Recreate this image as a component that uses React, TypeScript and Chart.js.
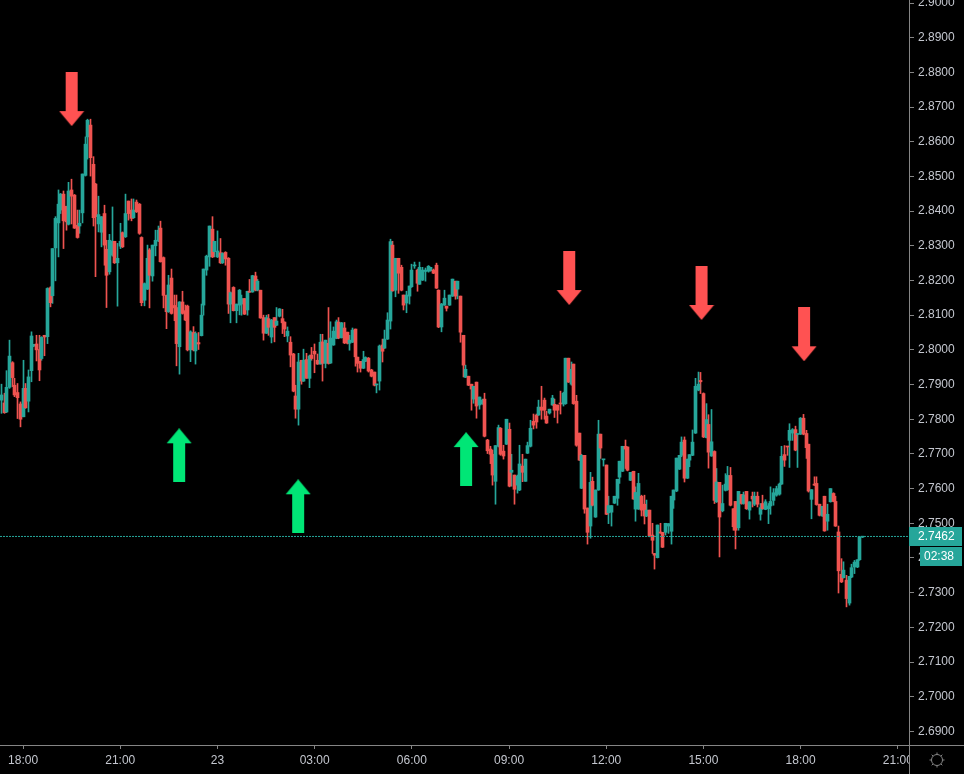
import { useEffect, useRef } from 'react';
import { Chart, registerables } from 'chart.js';

Chart.register(...registerables);

const opens = [
  2.7855,2.7847,2.7821,2.7892,2.7963,2.7898,2.7877,2.7844,2.7807,2.7889,
  2.7852,2.7940,2.8011,2.8017,2.8001,2.7975,2.8042,2.8038,2.8179,2.8156,
  2.8294,2.8366,2.8403,2.8449,2.8414,2.8362,2.8461,2.8446,2.8359,2.8357,
  2.8395,2.8503,2.8614,2.8648,2.8535,2.8478,2.8363,2.8339,2.8393,2.8290,
  2.8225,2.8273,2.8313,2.8251,2.8299,2.8338,2.8326,2.8429,2.8403,2.8381,
  2.8426,2.8420,2.8324,2.8143,2.8175,2.8288,2.8213,2.8300,2.8314,2.8351,
  2.8266,2.8157,2.8110,2.8207,2.8128,2.8122,2.8009,2.8138,2.8113,2.8126,
  2.8000,2.8050,2.7997,2.8021,2.8041,2.8129,2.8230,2.8268,2.8348,2.8283,
  2.8268,2.8280,2.8251,2.8281,2.8264,2.8132,2.8180,2.8113,2.8129,2.8132,
  2.8148,2.8115,2.8169,2.8167,2.8213,2.8172,2.8172,2.8093,2.8048,2.8090,
  2.8037,2.8093,2.8071,2.8097,2.8090,2.8080,2.8040,2.8022,2.7988,2.7867,
  2.7829,2.7970,2.7910,2.7972,2.7918,2.7985,2.7996,2.7970,2.7959,2.8023,
  2.7961,2.8019,2.7962,2.8014,2.8033,2.8080,2.8035,2.8063,2.8051,2.8019,
  2.8022,2.8060,2.7979,2.7967,2.7947,2.7967,2.7976,2.7942,2.7936,2.7899,
  2.7910,2.8014,2.8005,2.8031,2.8083,2.8302,2.8172,2.8264,2.8238,2.8158,
  2.8135,2.8155,2.8182,2.8242,2.8230,2.8189,2.8201,2.8226,2.8227,2.8228,
  2.8230,2.8244,2.8172,2.8066,2.8129,2.8126,2.8129,2.8155,2.8198,2.8175,
  2.8155,2.8042,2.7921,2.7924,2.7901,2.7858,2.7907,2.7841,2.7844,2.7858,
  2.7740,2.7714,2.7699,2.7621,2.7722,2.7774,2.7708,2.7728,2.7771,2.7647,
  2.7639,2.7610,2.7596,2.7665,2.7621,2.7702,2.7722,2.7794,2.7812,2.7812,
  2.7835,2.7855,2.7809,2.7818,2.7841,2.7843,2.7841,2.7846,2.7844,2.7845,
  2.7976,2.7901,2.7959,2.7852,2.7760,2.7601,2.7696,2.7544,2.7492,2.7621,
  2.7518,2.7596,2.7757,2.7683,2.7668,2.7530,2.7532,2.7558,2.7572,2.7633,
  2.7650,2.7722,2.7720,2.7624,2.7650,2.7541,2.7541,2.7578,2.7555,2.7521,
  2.7538,2.7466,2.7413,2.7401,2.7474,2.7474,2.7474,2.7492,2.7477,2.7567,
  2.7593,2.7656,2.7696,2.7740,2.7630,2.7682,2.7696,2.7760,2.7884,2.7912,
  2.7874,2.7747,2.7785,2.7694,2.7707,2.7562,2.7618,2.7536,2.7595,2.7597,
  2.7638,2.7542,2.7563,2.7487,2.7583,2.7557,2.7592,2.7538,2.7578,2.7555,
  2.7578,2.7526,2.7557,2.7540,2.7542,2.7550,2.7566,2.7581,2.7584,2.7613,
  2.7698,2.7722,2.7739,2.7760,2.7770,2.7756,2.7757,2.7803,2.7759,2.7728,
  2.7569,2.7613,2.7615,2.7555,2.7521,2.7578,2.7506,2.7562,2.7586,2.7563,
  2.7475,2.7353,2.7343,2.7336,2.7270,2.7345,2.7374,2.7374,2.7395,2.7460,
];

const closes = [
  2.7870,2.7819,2.7892,2.7982,2.7920,2.7870,2.7862,2.7800,2.7889,2.7833,
  2.7922,2.8040,2.8016,2.8000,2.7942,2.8036,2.8037,2.8177,2.8136,2.8292,
  2.8379,2.8420,2.8449,2.8372,2.8369,2.8458,2.8443,2.8351,2.8324,2.8365,
  2.8507,2.8593,2.8662,2.8554,2.8381,2.8384,2.8390,2.8384,2.8302,2.8215,
  2.8316,2.8313,2.8251,2.8264,2.8313,2.8297,2.8393,2.8393,2.8379,2.8403,
  2.8398,2.8336,2.8136,2.8191,2.8264,2.8215,2.8302,2.8316,2.8345,2.8254,
  2.8157,2.8110,2.8187,2.8105,2.8121,2.8018,2.8138,2.8105,2.8086,2.8000,
  2.8052,2.8000,2.8047,2.8017,2.8100,2.8233,2.8270,2.8357,2.8268,2.8313,
  2.8285,2.8251,2.8278,2.8262,2.8132,2.8165,2.8113,2.8132,2.8172,2.8148,
  2.8103,2.8169,2.8166,2.8214,2.8172,2.8198,2.8092,2.8048,2.8093,2.8065,
  2.8086,2.8065,2.8083,2.8118,2.8078,2.8060,2.8054,2.7985,2.7881,2.7829,
  2.7965,2.7910,2.7970,2.7918,2.7982,2.7975,2.7988,2.7959,2.8022,2.7961,
  2.8028,2.7961,2.8034,2.8054,2.8081,2.8034,2.8078,2.8020,2.8019,2.8028,
  2.8057,2.7980,2.7961,2.7947,2.7972,2.7978,2.7939,2.7924,2.7898,2.7901,
  2.8011,2.7996,2.8031,2.8086,2.8312,2.8170,2.8264,2.8221,2.8172,2.8129,
  2.8158,2.8184,2.8230,2.8244,2.8192,2.8238,2.8230,2.8230,2.8241,2.8238,
  2.8221,2.8178,2.8066,2.8132,2.8149,2.8120,2.8158,2.8204,2.8155,2.8198,
  2.8051,2.7956,2.7944,2.7898,2.7887,2.7895,2.7838,2.7864,2.7855,2.7751,
  2.7709,2.7699,2.7639,2.7724,2.7776,2.7699,2.7694,2.7800,2.7607,2.7653,
  2.7598,2.7636,2.7671,2.7647,2.7685,2.7724,2.7774,2.7783,2.7792,2.7835,
  2.7826,2.7826,2.7789,2.7829,2.7861,2.7826,2.7826,2.7844,2.7875,2.7976,
  2.7907,2.7944,2.7845,2.7725,2.7682,2.7696,2.7541,2.7474,2.7618,2.7552,
  2.7596,2.7757,2.7717,2.7684,2.7526,2.7551,2.7551,2.7578,2.7627,2.7679,
  2.7722,2.7714,2.7653,2.7647,2.7570,2.7589,2.7615,2.7538,2.7521,2.7538,
  2.7463,2.7451,2.7408,2.7495,2.7472,2.7431,2.7500,2.7499,2.7578,2.7596,
  2.7688,2.7696,2.7734,2.7630,2.7685,2.7698,2.7734,2.7895,2.7901,2.7908,
  2.7749,2.7799,2.7705,2.7735,2.7566,2.7619,2.7518,2.7557,2.7613,2.7638,
  2.7552,2.7490,2.7480,2.7592,2.7557,2.7582,2.7542,2.7562,2.7570,2.7578,
  2.7555,2.7545,2.7542,2.7562,2.7550,2.7563,2.7588,2.7600,2.7613,2.7693,
  2.7682,2.7720,2.7768,2.7770,2.7711,2.7757,2.7803,2.7757,2.7718,2.7593,
  2.7597,2.7610,2.7554,2.7523,2.7549,2.7478,2.7526,2.7600,2.7563,2.7492,
  2.7363,2.7331,2.7365,2.7283,2.7347,2.7372,2.7388,2.7395,2.7461,2.7462,
];

const highs = [
  2.7901,2.7875,2.7940,2.8028,2.7966,2.7918,2.7903,2.7850,2.7970,2.7903,
  2.7942,2.8052,2.8016,2.8042,2.8042,2.8038,2.8042,2.8179,2.8182,2.8292,
  2.8384,2.8461,2.8451,2.8458,2.8414,2.8483,2.8492,2.8448,2.8403,2.8403,
  2.8507,2.8614,2.8665,2.8665,2.8557,2.8480,2.8443,2.8384,2.8417,2.8316,
  2.8333,2.8412,2.8313,2.8307,2.8365,2.8340,2.8449,2.8429,2.8435,2.8435,
  2.8432,2.8422,2.8326,2.8193,2.8302,2.8292,2.8302,2.8345,2.8357,2.8371,
  2.8268,2.8158,2.8215,2.8233,2.8158,2.8158,2.8139,2.8169,2.8129,2.8129,
  2.8055,2.8067,2.8052,2.8050,2.8132,2.8233,2.8273,2.8357,2.8384,2.8313,
  2.8343,2.8321,2.8280,2.8283,2.8266,2.8167,2.8182,2.8132,2.8174,2.8158,
  2.8148,2.8169,2.8203,2.8215,2.8224,2.8203,2.8172,2.8100,2.8100,2.8102,
  2.8088,2.8093,2.8122,2.8119,2.8117,2.8081,2.8066,2.8038,2.7990,2.7898,
  2.7990,2.7970,2.8002,2.7990,2.7985,2.8007,2.8017,2.7988,2.8045,2.8045,
  2.8028,2.8122,2.8081,2.8066,2.8086,2.8093,2.8079,2.8079,2.8051,2.8042,
  2.8063,2.8060,2.7979,2.7967,2.7996,2.7980,2.7978,2.7944,2.7936,2.7901,
  2.8014,2.8031,2.8057,2.8107,2.8319,2.8313,2.8264,2.8264,2.8244,2.8158,
  2.8169,2.8184,2.8247,2.8253,2.8233,2.8253,2.8238,2.8236,2.8243,2.8238,
  2.8233,2.8250,2.8173,2.8134,2.8172,2.8126,2.8158,2.8204,2.8198,2.8198,
  2.8155,2.8042,2.7956,2.7924,2.7901,2.7895,2.7907,2.7864,2.7858,2.7875,
  2.7742,2.7722,2.7711,2.7724,2.7783,2.7776,2.7725,2.7800,2.7789,2.7699,
  2.7639,2.7639,2.7725,2.7699,2.7685,2.7734,2.7797,2.7815,2.7815,2.7855,
  2.7895,2.7861,2.7823,2.7829,2.7869,2.7858,2.7841,2.7881,2.7878,2.7976,
  2.7976,2.7965,2.7959,2.7869,2.7760,2.7699,2.7696,2.7544,2.7647,2.7633,
  2.7596,2.7797,2.7757,2.7684,2.7668,2.7578,2.7551,2.7578,2.7627,2.7679,
  2.7722,2.7740,2.7720,2.7647,2.7650,2.7605,2.7644,2.7581,2.7581,2.7567,
  2.7538,2.7500,2.7413,2.7495,2.7500,2.7474,2.7500,2.7499,2.7578,2.7596,
  2.7688,2.7696,2.7749,2.7749,2.7685,2.7698,2.7769,2.7918,2.7936,2.7935,
  2.7876,2.7845,2.7813,2.7828,2.7709,2.7658,2.7618,2.7610,2.7643,2.7664,
  2.7661,2.7542,2.7563,2.7592,2.7583,2.7590,2.7592,2.7562,2.7590,2.7590,
  2.7590,2.7557,2.7581,2.7568,2.7557,2.7605,2.7600,2.7607,2.7616,2.7722,
  2.7724,2.7722,2.7787,2.7773,2.7780,2.7757,2.7805,2.7814,2.7768,2.7728,
  2.7597,2.7634,2.7634,2.7555,2.7549,2.7578,2.7555,2.7600,2.7588,2.7578,
  2.7492,2.7398,2.7389,2.7350,2.7347,2.7382,2.7393,2.7395,2.7461,2.7462,
];

const lows = [
  2.7817,2.7817,2.7819,2.7889,2.7894,2.7865,2.7802,2.7778,2.7807,2.7831,
  2.7821,2.7908,2.8009,2.7968,2.7911,2.7970,2.7983,2.8018,2.8124,2.8134,
  2.8199,2.8268,2.8393,2.8292,2.8345,2.8360,2.8363,2.8350,2.8322,2.8336,
  2.8366,2.8501,2.8550,2.8501,2.8357,2.8211,2.8340,2.8297,2.8244,2.8122,
  2.8218,2.8270,2.8249,2.8126,2.8292,2.8295,2.8324,2.8374,2.8372,2.8379,
  2.8396,2.8333,2.8127,2.8127,2.8174,2.8121,2.8198,2.8271,2.8312,2.8253,
  2.8121,2.8061,2.8108,2.8103,2.8084,2.7954,2.7930,2.8103,2.8084,2.7997,
  2.7966,2.7997,2.7959,2.8001,2.8040,2.8100,2.8215,2.8241,2.8266,2.8268,
  2.8266,2.8249,2.8249,2.8244,2.8105,2.8078,2.8112,2.8078,2.8101,2.8100,
  2.8102,2.8100,2.8166,2.8166,2.8170,2.8170,2.8091,2.8028,2.8047,2.8042,
  2.8020,2.8023,2.8070,2.8095,2.8047,2.8038,2.8023,2.7951,2.7879,2.7803,
  2.7783,2.7901,2.7909,2.7918,2.7891,2.7970,2.7934,2.7958,2.7959,2.7910,
  2.7948,2.7959,2.7961,2.8013,2.8032,2.8032,2.8034,2.8018,2.8017,2.7999,
  2.8021,2.7953,2.7936,2.7936,2.7946,2.7966,2.7936,2.7922,2.7896,2.7876,
  2.7884,2.7965,2.8004,2.8030,2.8060,2.8169,2.8153,2.8163,2.8170,2.8115,
  2.8107,2.8132,2.8180,2.8235,2.8169,2.8189,2.8200,2.8198,2.8224,2.8227,
  2.8220,2.8177,2.8064,2.8052,2.8128,2.8112,2.8128,2.8154,2.8146,2.8147,
  2.8022,2.7922,2.7920,2.7897,2.7826,2.7846,2.7803,2.7829,2.7843,2.7749,
  2.7701,2.7672,2.7610,2.7555,2.7720,2.7696,2.7685,2.7727,2.7605,2.7607,
  2.7555,2.7587,2.7594,2.7620,2.7621,2.7701,2.7720,2.7772,2.7774,2.7811,
  2.7800,2.7800,2.7788,2.7815,2.7840,2.7805,2.7789,2.7815,2.7838,2.7843,
  2.7906,2.7898,2.7843,2.7722,2.7681,2.7600,2.7529,2.7440,2.7457,2.7550,
  2.7517,2.7595,2.7687,2.7665,2.7525,2.7499,2.7492,2.7557,2.7552,2.7615,
  2.7649,2.7658,2.7651,2.7623,2.7569,2.7506,2.7540,2.7521,2.7498,2.7519,
  2.7461,2.7413,2.7368,2.7400,2.7471,2.7430,2.7466,2.7471,2.7440,2.7543,
  2.7591,2.7655,2.7692,2.7619,2.7629,2.7663,2.7695,2.7759,2.7882,2.7874,
  2.7747,2.7746,2.7659,2.7693,2.7557,2.7560,2.7403,2.7533,2.7593,2.7595,
  2.7550,2.7480,2.7426,2.7480,2.7555,2.7555,2.7540,2.7512,2.7547,2.7551,
  2.7547,2.7509,2.7540,2.7539,2.7499,2.7526,2.7552,2.7578,2.7581,2.7612,
  2.7664,2.7696,2.7661,2.7739,2.7709,2.7661,2.7756,2.7755,2.7687,2.7590,
  2.7513,2.7609,2.7552,2.7521,2.7520,2.7477,2.7480,2.7561,2.7562,2.7491,
  2.7299,2.7329,2.7342,2.7259,2.7264,2.7343,2.7355,2.7372,2.7393,2.7459,
];

const timeLabels = ['18:00', '21:00', '23', '03:00', '06:00', '09:00', '12:00', '15:00', '18:00', '21:00'];
const timeTickBars = [8, 44, 80, 116, 152, 188, 224, 260, 296, 332];
const priceTicks = [
  2.69, 2.7, 2.71, 2.72, 2.73, 2.74, 2.75, 2.76, 2.77, 2.78, 2.79,
  2.8, 2.81, 2.82, 2.83, 2.84, 2.85, 2.86, 2.87, 2.88, 2.89, 2.9,
];

// arrows the chart's author put on the swing highs and lows
const sellArrowBars = [26, 210.3, 259.3, 297.3];
const sellArrowPrices = [2.8723, 2.8207, 2.8164, 2.8045];
const buyArrowBars = [65.8, 109.9, 172.1];
const buyArrowPrices = [2.7696, 2.7549, 2.7685];

const lastPrice = 2.7462;
const countdown = '02:38';

const UP = '#26a69a';
const DOWN = '#ef5350';
const AXIS = '#858585';
const TEXT = '#c4c7cf';
const FONT = '"Liberation Sans"';

const xMin = -0.55;
const xMax = 336.15;

function arrowImage(color: string, down: boolean): HTMLCanvasElement {
  const c = document.createElement('canvas');
  c.width = 26;
  c.height = 54;
  const ctx = c.getContext('2d')!;
  if (down) {
    ctx.translate(0, 54);
    ctx.scale(1, -1);
  }
  ctx.fillStyle = color;
  ctx.beginPath();
  ctx.moveTo(13, 0);
  ctx.lineTo(25.5, 15);
  ctx.lineTo(19, 15);
  ctx.lineTo(19, 54);
  ctx.lineTo(7, 54);
  ctx.lineTo(7, 15);
  ctx.lineTo(0.5, 15);
  ctx.closePath();
  ctx.fill();
  return c;
}

function noPadding(s: any) {
  s.paddingLeft = 0;
  s.paddingRight = 0;
  s.paddingTop = 0;
  s.paddingBottom = 0;
}

const overlayPlugin = {
  id: 'overlay',
  afterDatasetsUpdate(chart: Chart) {
    // candles sit on whole pixels, so the bars come out crisp
    chart.getSortedVisibleDatasetMetas().forEach((meta) => {
      if (meta.type !== 'bar') return;
      meta.data.forEach((el: any) => {
        el.x = Math.floor(el.x) + 0.5;
      });
    });
  },
  beforeDraw(chart: Chart) {
    const { ctx, width, height } = chart;
    ctx.save();
    ctx.fillStyle = '#000';
    ctx.fillRect(0, 0, width, height);
    ctx.restore();
  },
  afterDraw(chart: Chart) {
    const { ctx, height, width, chartArea, scales } = chart;
    const right = chartArea.right;
    const bottom = chartArea.bottom;
    const y = Math.ceil(scales.y.getPixelForValue(lastPrice));
    ctx.save();

    // corner of the two axes, the last time label runs under it
    ctx.fillStyle = '#000';
    ctx.fillRect(right, bottom, width - right, height - bottom);
    ctx.fillStyle = AXIS;
    ctx.fillRect(right, 0, 1, height);
    ctx.fillRect(0, bottom, width, 1);

    // price and countdown tags
    ctx.fillStyle = UP;
    ctx.fillRect(right, y - 10, 53, 19);
    ctx.fillRect(right + 11, y + 10, 42, 19);
    ctx.fillStyle = '#fff';
    ctx.font = `12px ${FONT}`;
    ctx.textBaseline = 'middle';
    ctx.textAlign = 'left';
    ctx.fillText(lastPrice.toFixed(4), right + 9, y);
    ctx.fillText(countdown, right + 15, y + 20);

    // settings gear
    const gx = 937;
    const gy = 760;
    ctx.strokeStyle = AXIS;
    ctx.lineWidth = 1;
    ctx.beginPath();
    ctx.arc(gx, gy, 5.5, 0, Math.PI * 2);
    for (let a = 0; a < 8; a++) {
      const t = (a * Math.PI) / 4;
      ctx.moveTo(gx + Math.cos(t) * 5.5, gy + Math.sin(t) * 5.5);
      ctx.lineTo(gx + Math.cos(t) * 7.5, gy + Math.sin(t) * 7.5);
    }
    ctx.stroke();
    ctx.restore();
  },
};

export default function App() {
  const canvasRef = useRef<HTMLCanvasElement>(null);

  useEffect(() => {
    if (!canvasRef.current) return;
    document.body.style.margin = '0';
    document.body.style.background = '#000';

    const colors = opens.map((o, i) => (closes[i] >= o ? UP : DOWN));

    const chart = new Chart(canvasRef.current, {
      type: 'bar',
      data: {
        datasets: [
          {
            type: 'scatter',
            data: sellArrowBars.map((x, i) => ({ x, y: sellArrowPrices[i] })),
            pointStyle: arrowImage('#ff5252', true),
            pointRadius: 5,
            order: 0,
          },
          {
            type: 'scatter',
            data: buyArrowBars.map((x, i) => ({ x, y: buyArrowPrices[i] })),
            pointStyle: arrowImage('#00e676', false),
            pointRadius: 5,
            order: 0,
          },
          {
            type: 'line',
            data: [
              { x: xMin, y: lastPrice },
              { x: xMax, y: lastPrice },
            ],
            borderColor: UP,
            borderWidth: 1,
            borderDash: [2, 1],
            pointRadius: 0,
            order: 1,
          },
          {
            data: opens.map((o, i) => ({ x: i, y: [o, closes[i]] })),
            backgroundColor: colors,
            barThickness: 3,
            minBarLength: 1,
            grouped: false,
            order: 2,
          },
          {
            data: opens.map((_, i) => ({ x: i, y: [lows[i], highs[i]] })),
            backgroundColor: colors,
            barThickness: 1,
            grouped: false,
            order: 3,
          },
        ],
      } as any,
      options: {
        responsive: false,
        animation: false,
        events: [],
        layout: { padding: 0, autoPadding: false },
        plugins: { legend: { display: false }, tooltip: { enabled: false } },
        scales: {
          x: {
            type: 'linear',
            offset: false,
            min: xMin,
            max: xMax,
            afterFit: (s: any) => {
              s.height = 29;
              noPadding(s);
            },
            afterBuildTicks: (s: any) => {
              s.ticks = timeTickBars.map((value) => ({ value }));
            },
            border: { color: AXIS },
            grid: { offset: false, drawOnChartArea: false, color: AXIS, tickLength: 4 },
            ticks: {
              autoSkip: false,
              maxRotation: 0,
              color: TEXT,
              padding: 4,
              font: { family: FONT, size: 12 },
              callback: (_v: any, i: number) => timeLabels[i],
            },
          },
          y: {
            type: 'linear',
            position: 'right',
            min: 2.68608,
            max: 2.900865,
            afterFit: (s: any) => {
              s.width = 55;
              noPadding(s);
            },
            afterBuildTicks: (s: any) => {
              s.ticks = priceTicks.map((value) => ({ value }));
            },
            border: { color: AXIS },
            grid: { drawOnChartArea: false, color: AXIS, tickLength: 5 },
            ticks: {
              autoSkip: false,
              color: TEXT,
              padding: 4,
              font: { family: FONT, size: 12 },
              callback: (v: any) => Number(v).toFixed(4),
            },
          },
        },
      } as any,
      plugins: [overlayPlugin],
    });

    return () => chart.destroy();
  }, []);

  return <canvas ref={canvasRef} width={964} height={774} style={{ display: 'block' }} />;
}
